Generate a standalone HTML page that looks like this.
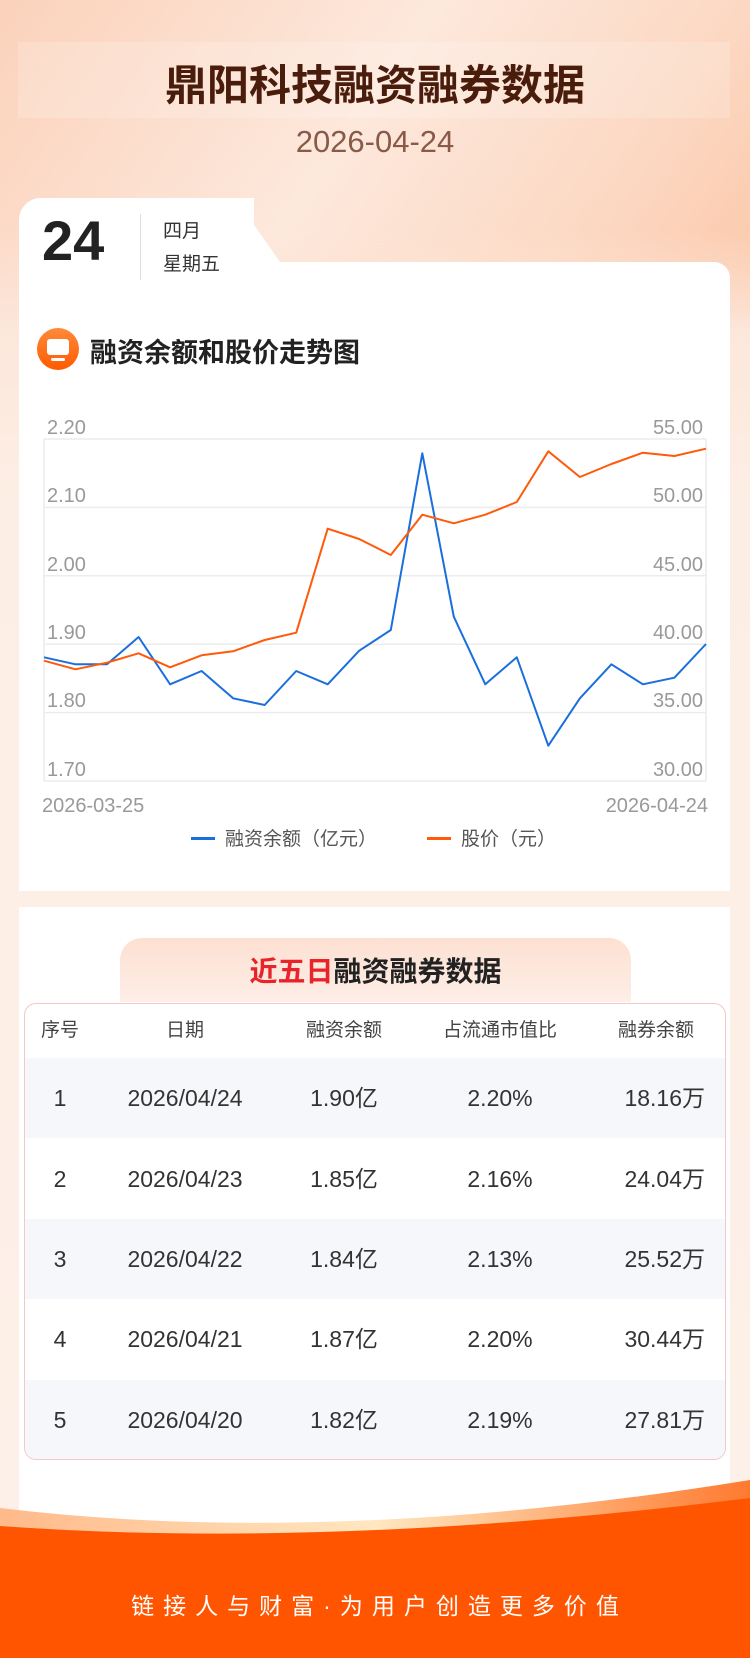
<!DOCTYPE html>
<html><head><meta charset="utf-8"><style>
*{margin:0;padding:0;box-sizing:border-box}
body{width:750px;height:1658px;position:relative;overflow:hidden;font-family:"Liberation Sans","Noto Sans CJK SC",sans-serif;background:linear-gradient(180deg,#fbd9c6 0%,#fdeee5 30%,#fdf0e8 100%)}
.abs{position:absolute}
.title{left:0;width:750px;top:52px;text-align:center;font-size:42px;font-weight:bold;color:#4a1c0c}
.date{left:0;width:750px;top:124px;text-align:center;font-size:31px;color:#8a5a48}
.card{background:#fff}
td,th{font-weight:normal;line-height:30px;vertical-align:middle}
</style></head><body>
<div class="abs" style="left:0;top:0;width:750px;height:330px;background:linear-gradient(125deg,#fbd2bb 0%,#fde8dc 45%,#fcd9c4 75%,#fbc7a8 100%);-webkit-mask-image:linear-gradient(180deg,#000 70%,transparent 100%);mask-image:linear-gradient(180deg,#000 70%,transparent 100%)"></div>
<div class="abs" style="left:18px;top:42px;width:712px;height:76px;background:rgba(255,255,255,0.18)"></div>
<div class="abs title">鼎阳科技融资融券数据</div>
<div class="abs date">2026-04-24</div>

<!-- card 1 -->
<div class="abs card" style="left:19px;top:198px;width:235px;height:80px;border-radius:22px 0 0 0;background:#fff"></div>
<div class="abs" style="left:200px;top:198px;width:80px;height:64px;background:#fff;border-radius:0 22px 0 0;transform:skewX(35deg);transform-origin:bottom left"></div>
<div class="abs card" style="left:19px;top:262px;width:711px;height:629px;border-radius:0 16px 0 0"></div>
<div class="abs" style="left:42px;top:208px;font-size:56px;font-weight:bold;color:#222">24</div>
<div class="abs" style="left:140px;top:214px;width:1px;height:66px;background:#ddd"></div>
<div class="abs" style="left:163px;top:216px;font-size:19px;color:#333">四月</div>
<div class="abs" style="left:163px;top:249px;font-size:19px;color:#333">星期五</div>

<div class="abs" style="left:37px;top:328px;width:42px;height:42px;border-radius:50%;background:linear-gradient(180deg,#ff8a3a,#ff5a00)"></div>
<div class="abs" style="left:47px;top:339px;width:22px;height:16px;border-radius:3px;background:#fff"></div>
<div class="abs" style="left:51px;top:358px;width:14px;height:3px;border-radius:2px;background:#fff"></div>
<div class="abs" style="left:90px;top:331px;font-size:27px;font-weight:bold;color:#222">融资余额和股价走势图</div>

<svg class="abs" style="left:0;top:0" width="750" height="900">
<g stroke="#ececec" stroke-width="1.5">
<line x1="44" y1="439" x2="706" y2="439"/><line x1="44" y1="507.4" x2="706" y2="507.4"/><line x1="44" y1="575.8" x2="706" y2="575.8"/><line x1="44" y1="644.2" x2="706" y2="644.2"/><line x1="44" y1="712.6" x2="706" y2="712.6"/><line x1="44" y1="781" x2="706" y2="781"/>
<line x1="44" y1="439" x2="44" y2="781"/><line x1="706" y1="439" x2="706" y2="781"/>
</g>
<g font-family="Liberation Sans,sans-serif" font-size="20" fill="#999">
<text x="47" y="434">2.20</text><text x="47" y="502">2.10</text><text x="47" y="571">2.00</text><text x="47" y="639">1.90</text><text x="47" y="707">1.80</text><text x="47" y="776">1.70</text>
<g text-anchor="end"><text x="703" y="434">55.00</text><text x="703" y="502">50.00</text><text x="703" y="571">45.00</text><text x="703" y="639">40.00</text><text x="703" y="707">35.00</text><text x="703" y="776">30.00</text></g>
<text x="42" y="812">2026-03-25</text><text x="708" y="812" text-anchor="end">2026-04-24</text>
</g>
<polyline fill="none" stroke="#1a6fdc" stroke-width="2" stroke-linejoin="round" points="44,657.3 75.5,664.3 107,664.3 138.6,637 170.1,684.3 201.6,671 233.1,698.3 264.7,705 296.2,671 327.7,684.3 359.2,650.7 390.8,630 422.3,453.3 453.8,616.7 485.3,684.3 516.8,657.3 548.3,745.7 579.9,698.3 611.4,664.3 642.9,684.3 674.4,677.7 706,644"/>
<polyline fill="none" stroke="#ff5a0a" stroke-width="2" stroke-linejoin="round" points="44,660.7 75.5,669.3 107,662.7 138.6,653.3 170.1,667.3 201.6,655.3 233.1,651.3 264.7,640 296.2,632.7 327.7,528.7 359.2,539 390.8,555 422.3,514.7 453.8,523.3 485.3,514.7 516.8,502 548.3,451.3 579.9,477 611.4,464 642.9,452.7 674.4,456 706,448.7"/>
<rect x="191" y="837" width="24" height="3" fill="#1a6fdc"/>
<rect x="427" y="837" width="24" height="3" fill="#ff5a0a"/>
<g font-family="Liberation Sans,Noto Sans CJK SC,sans-serif" font-size="19" fill="#555">
<text x="225" y="845">融资余额（亿元）</text><text x="461" y="845">股价（元）</text>
</g>
</svg>

<!-- card 2 -->
<div class="abs card" style="left:19px;top:907px;width:711px;height:640px"></div>
<div class="abs" style="left:120px;top:938px;width:511px;height:64px;border-radius:22px 22px 0 0;background:linear-gradient(180deg,#fde0d2,#fdeee7)"></div>
<div class="abs" style="left:120px;top:950px;width:511px;text-align:center;font-size:28px;font-weight:bold;color:#222"><span style="color:#e8242a">近五日</span>融资融券数据</div>
<div class="abs" style="left:24px;top:1003px;width:702px;height:457px;border:1px solid #f7c6c6;border-radius:12px;overflow:hidden;background:#fff">
<table style="width:100%;border-collapse:collapse;font-size:23px;color:#333">
<tr style="height:54px;font-size:19px;color:#444"><td style="width:70px;text-align:center">序号</td><td style="width:180px;text-align:center">日期</td><td style="width:138px;text-align:center">融资余额</td><td style="width:174px;text-align:center">占流通市值比</td><td style="text-align:center">融券余额</td></tr>
<tr style="height:80.4px;background:#f6f7fa"><td style="text-align:center">1</td><td style="text-align:center">2026/04/24</td><td style="text-align:center">1.90亿</td><td style="text-align:center">2.20%</td><td style="text-align:right;padding-right:20px">18.16万</td></tr>
<tr style="height:80.4px"><td style="text-align:center">2</td><td style="text-align:center">2026/04/23</td><td style="text-align:center">1.85亿</td><td style="text-align:center">2.16%</td><td style="text-align:right;padding-right:20px">24.04万</td></tr>
<tr style="height:80.4px;background:#f6f7fa"><td style="text-align:center">3</td><td style="text-align:center">2026/04/22</td><td style="text-align:center">1.84亿</td><td style="text-align:center">2.13%</td><td style="text-align:right;padding-right:20px">25.52万</td></tr>
<tr style="height:80.4px"><td style="text-align:center">4</td><td style="text-align:center">2026/04/21</td><td style="text-align:center">1.87亿</td><td style="text-align:center">2.20%</td><td style="text-align:right;padding-right:20px">30.44万</td></tr>
<tr style="height:80.4px;background:#f6f7fa"><td style="text-align:center">5</td><td style="text-align:center">2026/04/20</td><td style="text-align:center">1.82亿</td><td style="text-align:center">2.19%</td><td style="text-align:right;padding-right:20px">27.81万</td></tr>
</table></div>

<svg class="abs" style="left:0;top:1460px" width="750" height="198">
<defs><linearGradient id="g" x1="0" x2="1"><stop offset="0" stop-color="#ffb98a"/><stop offset="0.5" stop-color="#ffe7c0"/><stop offset="1" stop-color="#ff7a30"/></linearGradient></defs>
<path d="M0,48 Q330,88 750,20 L750,198 L0,198Z" fill="url(#g)"/>
<path d="M0,66 Q330,90 750,38 L750,198 L0,198Z" fill="#ff5500"/>
</svg>
<div class="abs" style="left:0;width:750px;top:1587px;text-align:center;font-size:23px;color:#fff;letter-spacing:9px;padding-left:9px">链接人与财富·为用户创造更多价值</div>
</body></html>
